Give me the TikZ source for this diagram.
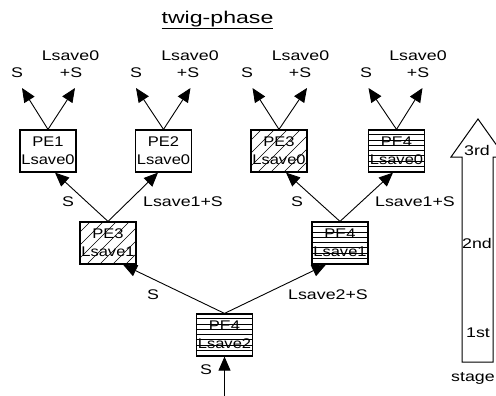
\documentclass[tikz,border=0pt]{standalone}
\usepackage{fontspec}
\setmainfont{Liberation Sans}
\usetikzlibrary{arrows.meta,calc}
\newcommand\sxl[1]{\scalebox{1.27}[1]{#1}}
\newcommand\sxb[1]{\scalebox{1.18}[1]{#1}}
\begin{document}
\begin{tikzpicture}[x=1pt,y=-1pt,
  pe/.style={draw, line width=1.2pt, minimum width=56pt, minimum height=42pt, inner sep=0pt, align=center, font=\fontsize{14}{18}\selectfont},
  lbl/.style={inner sep=0pt, font=\fontsize{14}{16}\selectfont},
  arr/.style={line width=0.9pt, -{Triangle[length=14pt,width=12pt]}},
  hatch/.style={line width=0.6pt},
  stagearrow/.style={draw, line width=1pt}]
\useasboundingbox (0,0) rectangle (496,396);
% title
\node[font=\fontsize{17}{19}\selectfont, inner sep=0pt] (title) at (217.5,20) {\underline{\scalebox{1.36}[1]{twig-phase}}};
% boxes
\node[pe] (t1) at (48,151) {\sxb{PE1}\\\sxb{Lsave0}};
\node[pe] (t2) at (163.5,151) {\sxb{PE2}\\\sxb{Lsave0}};
\node[pe] (t3) at (279,151) {\sxb{PE3}\\\sxb{Lsave0}};
\node[pe] (t4) at (396.5,151) {\sxb{PE4}\\\sxb{Lsave0}};
\node[pe] (m1) at (108,243) {\sxb{PE3}\\\sxb{Lsave1}};
\node[pe] (m2) at (340,243) {\sxb{PE4}\\\sxb{Lsave1}};
\node[pe] (b) at (224.5,335) {\sxb{PE4}\\\sxb{Lsave2}};
% diagonal hatching (PE3)
\foreach \n in {t3,m1}{
  \begin{scope}
    \clip (\n.north west) rectangle (\n.south east);
    \foreach \k in {-6,...,6}
      \draw[hatch] ($(\n.center)+(\k*13,0)+(-30,30)$) -- ++(60,-60);
  \end{scope}
}
% horizontal hatching (PE4)
\foreach \n in {t4,m2,b}{
  \foreach \k in {1,...,7}
    \draw[hatch] ($(\n.north west)+(0,\k*5.25)$) -- ++(56,0);
}
% output coordinates
\coordinate (t1l) at (22,88);   \coordinate (t1r) at (75,88);
\coordinate (t2l) at (136,88);  \coordinate (t2r) at (190.5,88);
\coordinate (t3l) at (252.5,88);\coordinate (t3r) at (307,88);
\coordinate (t4l) at (368.5,88);\coordinate (t4r) at (422.5,88);
\coordinate (in) at (224.5,398);
% arrows top
\foreach \n in {t1,t2,t3,t4}{
  \draw[arr] (\n.north) -- (\n l);
  \draw[arr] (\n.north) -- (\n r);
}
\draw[arr] (m1.north) -- ($(t1.south)+(7,0)$);
\draw[arr] (m1.north) -- ($(t2.south)+(-5.5,0)$);
\draw[arr] (m2.north) -- ($(t3.south)+(7,0)$);
\draw[arr] (m2.north) -- ($(t4.south)+(-3.5,0)$);
\draw[arr] (b.north) -- ($(m1.south)+(15,0)$);
\draw[arr] (b.north) -- ($(m2.south)+(-14,0)$);
\draw[arr] (in) -- (b.south);
% labels top
\node[lbl] (s1) at (17,73) {\sxl{S}};
\node[lbl] (s2) at (136,73) {\sxl{S}};
\node[lbl] (s3) at (247,73) {\sxl{S}};
\node[lbl] (s4) at (366,73) {\sxl{S}};
\node[lbl] (p1) at (71,73) {\sxl{+S}};
\node[lbl] (p2) at (188,73) {\sxl{+S}};
\node[lbl] (p3) at (300,73) {\sxl{+S}};
\node[lbl] (p4) at (418,73) {\sxl{+S}};
\node[lbl] (l1) at (70.5,56) {\sxl{Lsave0}};
\node[lbl] (l2) at (190,56) {\sxl{Lsave0}};
\node[lbl] (l3) at (300.5,56) {\sxl{Lsave0}};
\node[lbl] (l4) at (418,56) {\sxl{Lsave0}};
% labels middle
\node[lbl] (ms1) at (68,202) {\sxl{S}};
\node[lbl] (mp1) at (183,202) {\sxl{Lsave1+S}};
\node[lbl] (ms2) at (297,202) {\sxl{S}};
\node[lbl] (mp2) at (415,202) {\sxl{Lsave1+S}};
% labels bottom
\node[lbl] (bs) at (153,295) {\sxl{S}};
\node[lbl] (bp) at (328,295) {\sxl{Lsave2+S}};
\node[lbl] (is) at (206,370) {\sxl{S}};
% stage arrow
\draw[stagearrow] (462,362) -- (462,157) -- (451,157) -- (478,119) -- (505,157) -- (493,157) -- (493,362) -- cycle;
\node[lbl] (st3) at (477,150) {\sxl{3rd}};
\node[lbl] (st2) at (477,243) {\sxl{2nd}};
\node[lbl] (st1) at (478,333) {\sxl{1st}};
\node[lbl, anchor=west] (stg) at (451,378) {\sxl{stage}};
\end{tikzpicture}
\end{document}
